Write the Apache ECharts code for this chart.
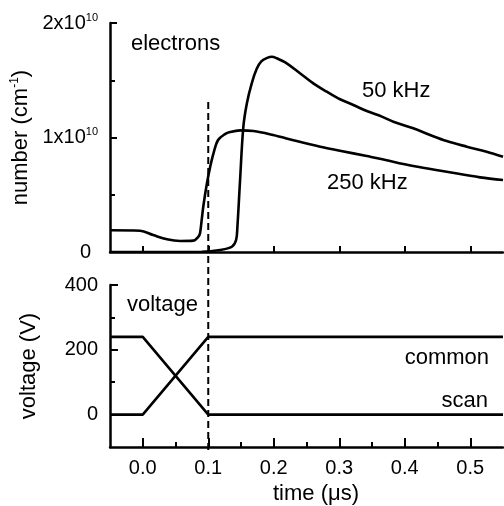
<!DOCTYPE html>
<html>
<head>
<meta charset="utf-8">
<script src="https://cdn.jsdelivr.net/npm/echarts@6/dist/echarts.min.js"></script>
<style>
  html, body { margin: 0; padding: 0; background: #fff; }
  #chart { width: 504px; height: 506px; }
</style>
</head>
<body>
<div id="chart"></div>
<script>
// electron number (cm^-1) vs time (us)
const t250 = [-0.05, -0.004, 0.016, 0.037, 0.057, 0.077, 0.085, 0.0875, 0.09, 0.0925, 0.098, 0.103, 0.108, 0.115, 0.1256, 0.1333, 0.1486, 0.169, 0.199, 0.235, 0.271, 0.301, 0.342, 0.362, 0.413, 0.464, 0.515, 0.55];
const n250 = [0.19, 0.186, 0.148, 0.111, 0.096, 0.099, 0.134, 0.166, 0.28, 0.40, 0.60, 0.745, 0.862, 0.978, 1.030, 1.048, 1.062, 1.057, 1.022, 0.969, 0.920, 0.885, 0.838, 0.815, 0.751, 0.701, 0.652, 0.629];
const t50 = [-0.05, 0.09, 0.118, 0.136, 0.1425, 0.1445, 0.1486, 0.1536, 0.159, 0.1664, 0.174, 0.181, 0.19, 0.197, 0.2046, 0.2198, 0.240, 0.2604, 0.2809, 0.3012, 0.3215, 0.342, 0.366, 0.3826, 0.413, 0.4386, 0.464, 0.4947, 0.525, 0.55];
const n50 = [0, 0.002, 0.017, 0.046, 0.105, 0.22, 0.63, 1.094, 1.30, 1.473, 1.60, 1.665, 1.695, 1.705, 1.692, 1.648, 1.561, 1.473, 1.40, 1.334, 1.284, 1.231, 1.18, 1.138, 1.080, 1.022, 0.969, 0.920, 0.876, 0.832];
const nScale = 1e10;

// applied voltages (V)
const tV = [-0.05, 0, 0.1, 0.55];
const common = [0, 0, 240, 240];
const scan = [240, 240, 0, 0];

// dashed marker at t = 0.1 us
const markerTime = 0.1;

// tick values
const timeTicks = [0, 0.1, 0.2, 0.3, 0.4, 0.5];
const timeMinor = [0.05, 0.15, 0.25, 0.35, 0.45];
const voltTicks = [0, 200, 400];
const voltMinor = [100, 300];

const font = "'Liberation Sans', Arial, sans-serif";
const black = '#000';

function pairs(xs, ys, k) {
  return xs.map(function (x, i) { return [x, ys[i] * (k || 1)]; });
}

let myChart = echarts.init(document.getElementById('chart'));

const xBase = {
  type: 'value',
  min: -0.05,
  max: 0.55,
  splitLine: { show: false },
  axisLine: { show: true, onZero: false, lineStyle: { color: black, width: 2.5 } },
  axisTick: { show: true, inside: true, length: 6, lineStyle: { color: black, width: 2 }, customValues: timeTicks },
  axisLabel: { show: false }
};

let option = {
  animation: false,
  textStyle: { fontFamily: font, color: black },
  grid: [
    { left: 110, right: 1, top: 23, height: 229 },
    { left: 110, right: 1, top: 285, height: 165 },
    { left: 110, right: 1, top: 98, bottom: 56 }
  ],
  xAxis: [
    Object.assign({}, xBase, { gridIndex: 0, position: 'bottom' }),
    Object.assign({}, xBase, {
      gridIndex: 1,
      position: 'bottom',
      axisTick: { show: true, inside: true, length: 9, lineStyle: { color: black, width: 2 }, customValues: timeTicks },
      axisLabel: {
        show: true, customValues: timeTicks, margin: 11,
        fontSize: 20, fontFamily: font, color: black,
        formatter: function (v) { return v.toFixed(1); }
      },
      name: 'time (μs)',
      nameLocation: 'middle',
      nameGap: 36,
      nameTextStyle: { fontSize: 22, fontFamily: font, color: black, padding: [0, 0, 0, 19] }
    }),
    {
      type: 'value', gridIndex: 1, position: 'bottom', min: -0.05, max: 0.55,
      splitLine: { show: false }, axisLine: { show: false, onZero: false }, axisLabel: { show: false },
      axisTick: { show: true, inside: true, length: 5, lineStyle: { color: black, width: 2 }, customValues: timeMinor }
    },
    { type: 'value', gridIndex: 2, min: -0.05, max: 0.55, show: false }
  ],
  yAxis: [
    {
      type: 'value', gridIndex: 0, min: 0, max: 2e10, interval: 1e10,
      splitLine: { show: false },
      axisLine: { show: true, onZero: false, lineStyle: { color: black, width: 2.5 } },
      axisTick: { show: true, inside: true, length: 7, lineStyle: { color: black, width: 2 } },
      minorTick: { show: true, splitNumber: 2, length: 5, lineStyle: { color: black, width: 2 } },
      minorSplitLine: { show: false },
      axisLabel: {
        margin: 12,
        formatter: function (v) {
          if (v === 0) return '{b|0}{sp|}';
          return '{b|' + Math.round(v / nScale) + 'x10}{s|10}';
        },
        rich: {
          b: { fontSize: 20, fontFamily: font, color: black, lineHeight: 22 },
          s: { fontSize: 11, fontFamily: font, color: black, verticalAlign: 'top', lineHeight: 12 },
          sp: { width: 7 }
        }
      },
      name: '{a|number (cm}{s|-1}{a|)}',
      nameLocation: 'middle',
      nameGap: 69,
      nameTextStyle: {
        rich: {
          a: { fontSize: 22, fontFamily: font, color: black, lineHeight: 24 },
          s: { fontSize: 12, fontFamily: font, color: black, verticalAlign: 'top', lineHeight: 13 }
        }
      }
    },
    {
      type: 'value', gridIndex: 1, min: -100, max: 400,
      splitLine: { show: false },
      axisLine: { show: true, onZero: false, lineStyle: { color: black, width: 2.5 } },
      axisTick: { show: true, inside: true, length: 8, lineStyle: { color: black, width: 2 }, customValues: voltTicks },
      axisLabel: { customValues: voltTicks, margin: 12, fontSize: 20, fontFamily: font, color: black },
      name: 'voltage (V)',
      nameLocation: 'middle',
      nameGap: 70,
      nameTextStyle: { fontSize: 22, fontFamily: font, color: black }
    },
    {
      type: 'value', gridIndex: 1, position: 'left', min: -100, max: 400,
      splitLine: { show: false }, axisLine: { show: false, onZero: false }, axisLabel: { show: false },
      axisTick: { show: true, inside: true, length: 5, lineStyle: { color: black, width: 2 }, customValues: voltMinor }
    },
    { type: 'value', gridIndex: 2, min: 0, max: 1, show: false }
  ],
  series: [
    {
      name: '250 kHz', type: 'line', xAxisIndex: 0, yAxisIndex: 0,
      data: pairs(t250, n250, nScale), showSymbol: false,
      smooth: 0.35,
      lineStyle: { color: black, width: 2.6 }
    },
    {
      name: '50 kHz', type: 'line', xAxisIndex: 0, yAxisIndex: 0,
      data: pairs(t50, n50, nScale), showSymbol: false,
      smooth: 0.35,
      lineStyle: { color: black, width: 2.6 }
    },
    {
      name: 'common', type: 'line', xAxisIndex: 1, yAxisIndex: 1,
      data: pairs(tV, common), showSymbol: false,
      lineStyle: { color: black, width: 2.6 }
    },
    {
      name: 'scan', type: 'line', xAxisIndex: 1, yAxisIndex: 1,
      data: pairs(tV, scan), showSymbol: false,
      lineStyle: { color: black, width: 2.6 }
    },
    {
      name: 'marker', type: 'line', xAxisIndex: 3, yAxisIndex: 3,
      data: [[markerTime, 0], [markerTime, 1]], showSymbol: false,
      lineStyle: { color: black, width: 2, type: [7, 4] }
    }
  ],
  graphic: [
    { type: 'text', x: 131, y: 44, style: { text: 'electrons', font: '22px ' + font, fill: black, verticalAlign: 'middle' } },
    { type: 'text', x: 362, y: 91, style: { text: '50 kHz', font: '22px ' + font, fill: black, verticalAlign: 'middle' } },
    { type: 'text', x: 327, y: 183, style: { text: '250 kHz', font: '22px ' + font, fill: black, verticalAlign: 'middle' } },
    { type: 'text', x: 127, y: 305, style: { text: 'voltage', font: '22px ' + font, fill: black, verticalAlign: 'middle' } },
    { type: 'text', x: 489, y: 358, style: { text: 'common', font: '22px ' + font, fill: black, align: 'right', verticalAlign: 'middle' } },
    { type: 'text', x: 488, y: 401, style: { text: 'scan', font: '22px ' + font, fill: black, align: 'right', verticalAlign: 'middle' } }
  ]
};

myChart.setOption(option);

window.addEventListener('resize', function () {
  myChart.resize();
});
</script>
</body>
</html>
